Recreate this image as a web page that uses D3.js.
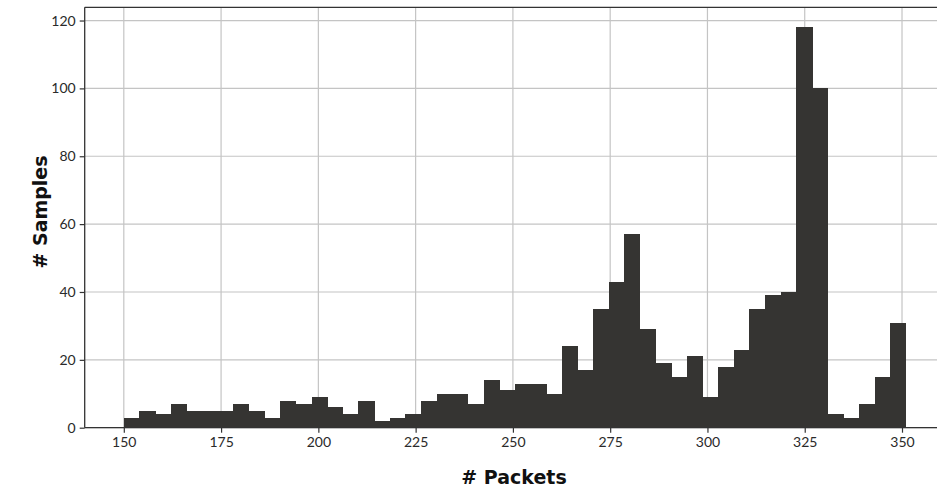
<!DOCTYPE html>
<html>
<head>
<meta charset="utf-8">
<script src="https://cdn.jsdelivr.net/npm/d3@7"></script>
<style>
  body { margin: 0; background: #fff; }
  text { font-family: "Lato", "DejaVu Sans", sans-serif; }
</style>
</head>
<body>
<div id="chart"></div>
<script>
// histogram counts, 50 equal bins from 150 to 351
var counts = [3, 5, 4, 7, 5, 5, 5, 7, 5, 3,
              8, 7, 9, 6, 4, 8, 2, 3, 4, 8,
              10, 10, 7, 14, 11, 13, 13, 10, 24, 17,
              35, 43, 57, 29, 19, 15, 21, 9, 18, 23,
              35, 39, 40, 118, 100, 4, 3, 7, 15, 31];
var binStart = 150, binEnd = 351;
var xTicks = [150, 175, 200, 225, 250, 275, 300, 325, 350];
var yTicks = [0, 20, 40, 60, 80, 100, 120];

var width = 937, height = 491;
// note: "top" is taken by window.top, so use other names
var plotLeft = 84.7, plotTop = 7.3, plotBottom = 427.7, plotRight = 945;

var binW = (binEnd - binStart) / counts.length;
var bins = counts.map(function(c, i) {
    return { x0: binStart + i * binW, x1: binStart + (i + 1) * binW, n: c };
});

var svg = d3.select('#chart')
            .append('svg')
            .attr('width', width)
            .attr('height', height);

// matplotlib-like 5% margins
var xPad = (binEnd - binStart) * 0.05;
var x = d3.scaleLinear()
    .domain([binStart - xPad, binEnd + xPad])
    .range([plotLeft, plotRight]);

var y = d3.scaleLinear()
    .domain([0, d3.max(counts) * 1.05])
    .range([plotBottom, plotTop]);

// grid
svg.append('g')
   .selectAll('line')
   .data(xTicks)
   .enter().append('line')
   .attr('x1', x).attr('x2', x)
   .attr('y1', plotTop).attr('y2', plotBottom)
   .attr('stroke', '#c4c4c4').attr('stroke-width', 1.2);

svg.append('g')
   .selectAll('line')
   .data(yTicks)
   .enter().append('line')
   .attr('x1', plotLeft).attr('x2', plotRight)
   .attr('y1', y).attr('y2', y)
   .attr('stroke', '#c4c4c4').attr('stroke-width', 1.2);

// bars
svg.append('g')
   .attr('shape-rendering', 'crispEdges')
   .selectAll('rect')
   .data(bins)
   .enter().append('rect')
   .attr('x', d => x(d.x0))
   .attr('width', d => x(d.x1) - x(d.x0) + 0.5)
   .attr('y', d => y(d.n))
   .attr('height', d => y(0) - y(d.n))
   .attr('fill', '#353432');

// axes
var xAxis = d3.axisBottom(x).tickValues(xTicks).tickSize(5).tickPadding(4);
var yAxis = d3.axisLeft(y).tickValues(yTicks).tickSize(5).tickPadding(4);

var gx = svg.append('g')
   .attr('transform', 'translate(0,' + plotBottom + ')')
   .call(xAxis);
var gy = svg.append('g')
   .attr('transform', 'translate(' + plotLeft + ',0)')
   .call(yAxis);

[gx, gy].forEach(function(g) {
    g.select('.domain').remove();
    g.selectAll('line').attr('stroke', '#333').attr('stroke-width', 1.2);
    g.selectAll('text')
     .attr('fill', '#2a2a2a')
     .style('font-size', '14px');
});

// spines
svg.append('line')
   .attr('x1', plotLeft).attr('x2', plotRight).attr('y1', plotBottom).attr('y2', plotBottom)
   .attr('stroke', '#333').attr('stroke-width', 1.3);
svg.append('line')
   .attr('x1', plotLeft).attr('x2', plotRight).attr('y1', plotTop).attr('y2', plotTop)
   .attr('stroke', '#333').attr('stroke-width', 1.3);
svg.append('line')
   .attr('x1', plotLeft).attr('x2', plotLeft).attr('y1', plotTop).attr('y2', plotBottom)
   .attr('stroke', '#333').attr('stroke-width', 1.3);

// axis titles
svg.append('text')
   .attr('x', 514).attr('y', 484)
   .attr('text-anchor', 'middle')
   .style('font-family', '"DejaVu Sans", sans-serif')
   .style('font-size', '19px').style('font-weight', 'bold')
   .attr('fill', '#111')
   .text('# Packets');

svg.append('text')
   .attr('transform', 'translate(40,212) rotate(-90)')
   .attr('text-anchor', 'middle')
   .attr('dominant-baseline', 'central')
   .style('font-family', '"DejaVu Sans", sans-serif')
   .style('font-size', '19px').style('font-weight', 'bold')
   .attr('fill', '#111')
   .text('# Samples');
</script>
</body>
</html>
